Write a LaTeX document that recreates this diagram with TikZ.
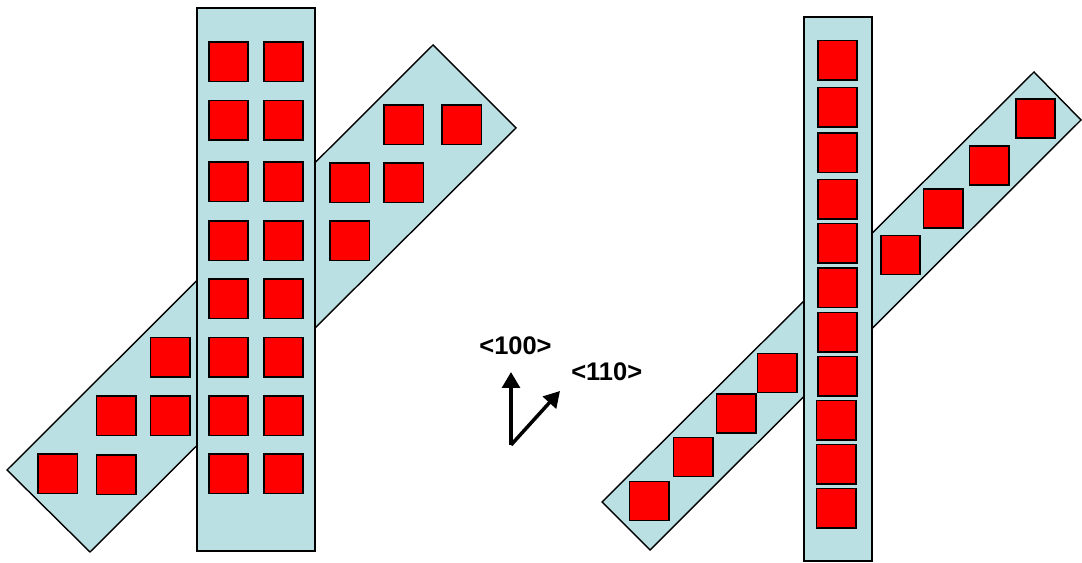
\documentclass[tikz,border=0pt]{standalone}
\usepackage{fontspec}
\setmainfont{Liberation Sans}
\usepackage{xcolor}
\usepackage{tikz}
\usetikzlibrary{arrows.meta}
\definecolor{bandblue}{RGB}{187,224,227}
\definecolor{padred}{RGB}{255,0,0}

\begin{document}
\begin{tikzpicture}[x=0.02cm,y=-0.02cm,
  band/.style={draw=black,fill=bandblue,line width=0.8pt,line join=miter},
  pad/.style={draw=black,fill=padred,line width=0.9pt},
  axis/.style={-{Triangle[length=9pt,width=10pt]},line width=2pt},
  dirlabel/.style={font=\bfseries\fontsize{14.5}{17}\selectfont,inner sep=0pt}]
\useasboundingbox (0,0) rectangle (1082,563);
% left: wide stripes
\draw[band](7,470)--(90,552)--(516,128)--(433,45)--cycle;
\draw[band](197,8)rectangle(315,551);
\foreach \y in {42,100.5,162,221,279,337.5,396,454}
  \foreach \x in {209,264}
    \draw[pad](\x,\y)rectangle++(39,39.5);
\foreach \x/\y in {384/105,442/105,330/163,384/163,330/221,150.5/337.5,96.5/396,150.5/396,38/454,96.5/455}
  \draw[pad](\x,\y)rectangle++(39.5,39.5);
% right: narrow stripes
\draw[band](602,502)--(650,550)--(1081,120)--(1034,72)--cycle;
\draw[band](804,17)rectangle(872,561);
\foreach \y in {40.6,87.3,133.2,179.5,223.7,267.9,312.4,356.6}
  \draw[pad](818,\y)rectangle++(39,39.5);
\foreach \y in {400.4,444.5,488.7}
  \draw[pad](816.7,\y)rectangle++(39,39.5);
\foreach \x/\y in {629.3/481.5,673.3/437.3,716.7/393.9,757.7/353.7,880.7/235.5,923.3/189.2,969.3/145.8,1015.7/99.1}
  \draw[pad](\x,\y)rectangle++(39.5,39);
% crystal directions
\coordinate(o)at(511,445);
\coordinate(up)at(511,372);
\coordinate(diag)at(560,391);
\draw[axis](o)--(up);
\draw[axis](o)--(diag);
\node[dirlabel](l100)at(515.5,346){<100>};
\node[dirlabel](l110)at(606.7,371.7){<110>};
\end{tikzpicture}
\end{document}
